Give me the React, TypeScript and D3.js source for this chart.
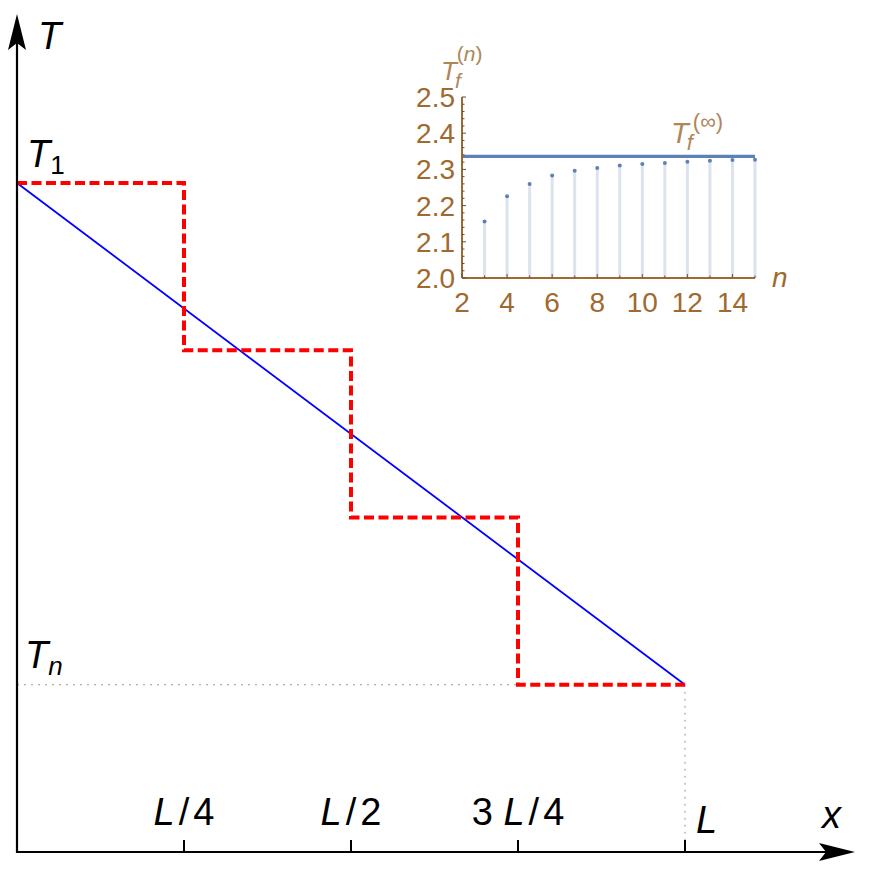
import * as d3 from "d3";

// main plot: piecewise-constant vs linear temperature profile
const xBreaks = [0, 0.25, 0.5, 0.75, 1];
const stepTemps = [4, 3, 2, 1, 1];
const linePts = [
  { x: 0, t: 4 },
  { x: 1, t: 1 },
];
const xTicks = [0.25, 0.5, 0.75];
const xTickLabels = [
  ["", "L", "/", "4"],
  ["", "L", "/", "2"],
  ["3", "L", "/", "4"],
];

// inset: T_f^(n) against n
const nValues = [3, 4, 5, 6, 7, 8, 9, 10, 11, 12, 13, 14, 15];
const tfValues = [2.156, 2.226, 2.26, 2.283, 2.296, 2.304, 2.311, 2.315, 2.318, 2.321, 2.324, 2.326, 2.327];
const tfInf = 2.336;
const insetXTicks = [2, 4, 6, 8, 10, 12, 14];
const insetYTicks = [2.0, 2.1, 2.2, 2.3, 2.4, 2.5];

const W = 872;
const H = 870;
const FONT = "'Liberation Sans', Arial, sans-serif";
const BROWN = "#a0692f";
const TAN = "#ae8657";
const BLUE = "#5e81b5";

export default function App() {
  const x = d3.scaleLinear().domain([0, 1]).range([17, 685]);
  const y = d3.scaleLinear().domain([0, 4]).range([852, 183]);

  const stairs = d3
    .line<number>()
    .x((_, i) => x(xBreaks[i]))
    .y((d) => y(d))
    .curve(d3.curveStepAfter)(stepTemps);

  const straight = d3
    .line<{ x: number; t: number }>()
    .x((d) => x(d.x))
    .y((d) => y(d.t))(linePts);

  const ix = d3.scaleLinear().domain([2, 15]).range([462, 755]);
  const iy = d3.scaleLinear().domain([2, 2.5]).range([278, 97]);
  const minorY = d3.range(2, 2.5001, 0.02);
  const minorX = d3.range(2, 15.001, 1);

  const x0 = x(0);
  const yAxis = y(0);
  const tn = y(1);
  const xL = x(1);

  return (
    <svg width={W} height={H} style={{ display: "block", margin: "-8px", background: "#fff" }} fontFamily={FONT}>
      {/* guide lines */}
      <line x1={x0} x2={x(0.75)} y1={tn} y2={tn} stroke="#999" strokeWidth={1} strokeDasharray="2,5" />
      <line x1={xL} x2={xL} y1={tn} y2={yAxis} stroke="#999" strokeWidth={1} strokeDasharray="2,5" />

      {/* linear profile */}
      <path d={straight ?? ""} fill="none" stroke="#0000ff" strokeWidth={1.8} />
      {/* staircase */}
      <path d={stairs ?? ""} fill="none" stroke="#ff0000" strokeWidth={4} strokeDasharray="10,4.5" />

      {/* axes */}
      <line x1={x0} x2={830} y1={yAxis} y2={yAxis} stroke="#000" strokeWidth={2.2} />
      <line x1={x0} x2={x0} y1={yAxis + 1} y2={40} stroke="#000" strokeWidth={2.2} />
      <path d={`M855,${yAxis} L819,${yAxis - 9} L826,${yAxis} L819,${yAxis + 9} Z`} fill="#000" />
      <path d={`M${x0},14 L${x0 - 9},50 L${x0},43 L${x0 + 9},50 Z`} fill="#000" />

      {[...xTicks, 1].map((t) => (
        <line key={t} x1={x(t)} x2={x(t)} y1={yAxis} y2={yAxis - 12} stroke="#000" strokeWidth={2} />
      ))}
      {xTicks.map((t, i) => {
        const [pre, v, slash, den] = xTickLabels[i];
        return (
          <text key={t} x={x(t)} y={825} fontSize={38} textAnchor="middle">
            {pre && <tspan>{pre} </tspan>}
            <tspan fontStyle="italic">{v}</tspan>
            <tspan dx={4}>{slash}</tspan>
            <tspan dx={4}>{den}</tspan>
          </text>
        );
      })}
      <text x={xL + 11} y={833} fontSize={38} fontStyle="italic">L</text>
      <text x={822} y={828} fontSize={38} fontStyle="italic">x</text>

      <text x={38} y={49} fontSize={38} fontStyle="italic">T</text>
      <text x={27} y={167} fontSize={38}>
        <tspan fontStyle="italic">T</tspan>
        <tspan fontSize={26} dy={7}>1</tspan>
      </text>
      <text x={25} y={668} fontSize={38}>
        <tspan fontStyle="italic">T</tspan>
        <tspan fontSize={26} fontStyle="italic" dy={7}>n</tspan>
      </text>

      {/* inset */}
      <g>
        {nValues.map((n, i) => (
          <line key={`s${n}`} x1={ix(n)} x2={ix(n)} y1={iy(2)} y2={iy(tfValues[i])} stroke="#dce3ee" strokeWidth={3} />
        ))}
        <line x1={ix(2)} x2={ix(15)} y1={iy(tfInf)} y2={iy(tfInf)} stroke={BLUE} strokeWidth={3.2} />
        {nValues.map((n, i) => (
          <circle key={`p${n}`} cx={ix(n)} cy={iy(tfValues[i])} r={2} fill={BLUE} />
        ))}

        <line x1={ix(2)} x2={ix(15)} y1={iy(2)} y2={iy(2)} stroke={BROWN} strokeWidth={2} />
        <line x1={ix(2)} x2={ix(2)} y1={iy(2)} y2={iy(2.5)} stroke={BROWN} strokeWidth={2} />
        {minorY.map((v, i) => (
          <line key={`my${i}`} x1={ix(2)} x2={ix(2) + (i % 5 === 0 ? 4 : 2.5)} y1={iy(v)} y2={iy(v)} stroke="#555" strokeWidth={1} />
        ))}
        {minorX.map((v) => (
          <line key={`mx${v}`} x1={ix(v)} x2={ix(v)} y1={iy(2)} y2={iy(2) - (v % 2 === 0 ? 4 : 2.5)} stroke="#555" strokeWidth={1} />
        ))}

        {insetYTicks.map((v) => (
          <text key={`yl${v}`} x={455} y={iy(v) + 10} fontSize={28} fill={BROWN} textAnchor="end">
            {v.toFixed(1)}
          </text>
        ))}
        {insetXTicks.map((v) => (
          <text key={`xl${v}`} x={ix(v)} y={312} fontSize={28} fill={BROWN} textAnchor="middle">
            {v}
          </text>
        ))}
        <text x={772} y={287} fontSize={28} fill={BROWN} fontStyle="italic">n</text>

        <text x={441} y={80} fontSize={26} fill={TAN}>
          <tspan fontStyle="italic">T</tspan>
          <tspan fontSize={21} fontStyle="italic" dx={-2} dy={8}>f</tspan>
          <tspan fontSize={21} dx={-4} dy={-27}>(</tspan>
          <tspan fontSize={21} fontStyle="italic">n</tspan>
          <tspan fontSize={21}>)</tspan>
        </text>
        <text x={671} y={143} fontSize={29} fill={TAN}>
          <tspan fontStyle="italic">T</tspan>
          <tspan fontSize={22} fontStyle="italic" dx={-2} dy={7}>f</tspan>
          <tspan fontSize={22} dx={0} dy={-21}>(∞)</tspan>
        </text>
      </g>
    </svg>
  );
}
